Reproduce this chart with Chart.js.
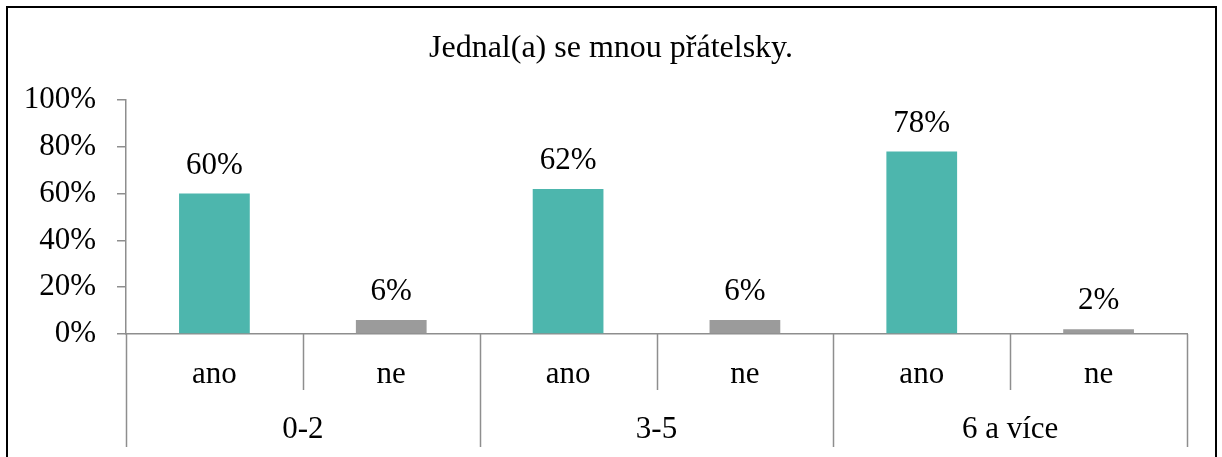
<!DOCTYPE html>
<html>
<head>
<meta charset="utf-8">
<script src="https://cdn.jsdelivr.net/npm/chart.js@4.4.1/dist/chart.umd.min.js"></script>
<style>
  html, body { margin: 0; padding: 0; background: #fff; }
  #wrap { position: relative; width: 1222px; height: 457px; overflow: hidden; }
  #frame { position: absolute; left: 6px; top: 6px; width: 1207px; height: 470px; border: 2px solid #000; pointer-events: none; }
  canvas { position: absolute; left: 0; top: 0; }
</style>
</head>
<body>
<div id="wrap">
  <canvas id="c" width="1222" height="457"></canvas>
  <div id="frame"></div>
</div>
<script>
const titleText = 'Jednal(a) se mnou přátelsky.';
const groups = ['0-2', '3-5', '6 a více'];
const answers = ['ano', 'ne'];
const anoValues = [60, 62, 78];
const neValues = [6, 6, 2];
const yTicks = [0, 20, 40, 60, 80, 100];
const colors = { ano: '#4db6ad', ne: '#9b9b9b' };

const FONT = '"Liberation Serif", "Times New Roman", serif';
const FS = 31;
const AXIS = '#8e8e8e';

const labels = [];
const values = [];
const barColors = [];
groups.forEach((g, i) => {
  labels.push(answers[0]); values.push(anoValues[i]); barColors.push(colors.ano);
  labels.push(answers[1]); values.push(neValues[i]); barColors.push(colors.ne);
});

const overlay = {
  id: 'overlay',
  afterDraw(chart) {
    const ctx = chart.ctx;
    const x = chart.scales.x, y = chart.scales.y;
    const y0 = y.getPixelForValue(0);
    ctx.save();
    // title
    ctx.fillStyle = '#000';
    ctx.font = `32px ${FONT}`;
    ctx.textAlign = 'center';
    ctx.textBaseline = 'middle';
    ctx.fillText(titleText, 611, 49);
    // data labels
    ctx.font = `${FS}px ${FONT}`;
    const meta = chart.getDatasetMeta(0);
    meta.data.forEach((bar, i) => {
      ctx.fillText(values[i] + '%', bar.x, bar.y - 28);
    });
    // x axis separators
    ctx.strokeStyle = AXIS;
    ctx.lineWidth = 1.5;
    const n = labels.length;
    const half = (x.getPixelForValue(1) - x.getPixelForValue(0)) / 2;
    for (let k = 0; k <= n; k++) {
      const px = Math.round(k < n ? x.getPixelForValue(k) - half : x.getPixelForValue(n - 1) + half) + 0.5;
      const bottom = (k % answers.length === 0) ? 447 : 390;
      ctx.beginPath();
      ctx.moveTo(px, y0);
      ctx.lineTo(px, bottom);
      ctx.stroke();
    }
    // category labels
    ctx.fillStyle = '#000';
    labels.forEach((l, i) => {
      ctx.fillText(l, x.getPixelForValue(i), 375);
    });
    groups.forEach((g, gi) => {
      const a = x.getPixelForValue(gi * answers.length);
      const b = x.getPixelForValue(gi * answers.length + answers.length - 1);
      ctx.fillText(g, (a + b) / 2, 430);
    });
    ctx.restore();
  }
};

new Chart(document.getElementById('c'), {
  type: 'bar',
  data: {
    labels: labels,
    datasets: [{
      data: values,
      backgroundColor: barColors,
      borderWidth: 0,
      categoryPercentage: 1,
      barPercentage: 0.4
    }]
  },
  options: {
    responsive: false,
    animation: false,
    layout: { padding: { top: 100, right: 35, bottom: 0, left: 0 } },
    plugins: { legend: { display: false }, tooltip: { enabled: false }, title: { display: false } },
    scales: {
      x: {
        offset: true,
        grid: { display: false },
        border: { display: true, color: AXIS, width: 1.5 },
        ticks: { display: false },
        afterFit(scale) { scale.height = 123; }
      },
      y: {
        min: 0, max: 100,
        afterBuildTicks(scale) { scale.ticks = yTicks.map(v => ({ value: v })); },
        grid: { drawOnChartArea: false, drawTicks: true, tickLength: 9, color: AXIS, lineWidth: 1.5 },
        border: { display: true, color: AXIS, width: 1.5 },
        ticks: {
          color: '#000',
          font: { family: FONT, size: FS },
          padding: 21,
          callback: v => v + '%'
        },
        afterFit(scale) { scale.width = 126; }
      }
    }
  },
  plugins: [overlay]
});
</script>
</body>
</html>
